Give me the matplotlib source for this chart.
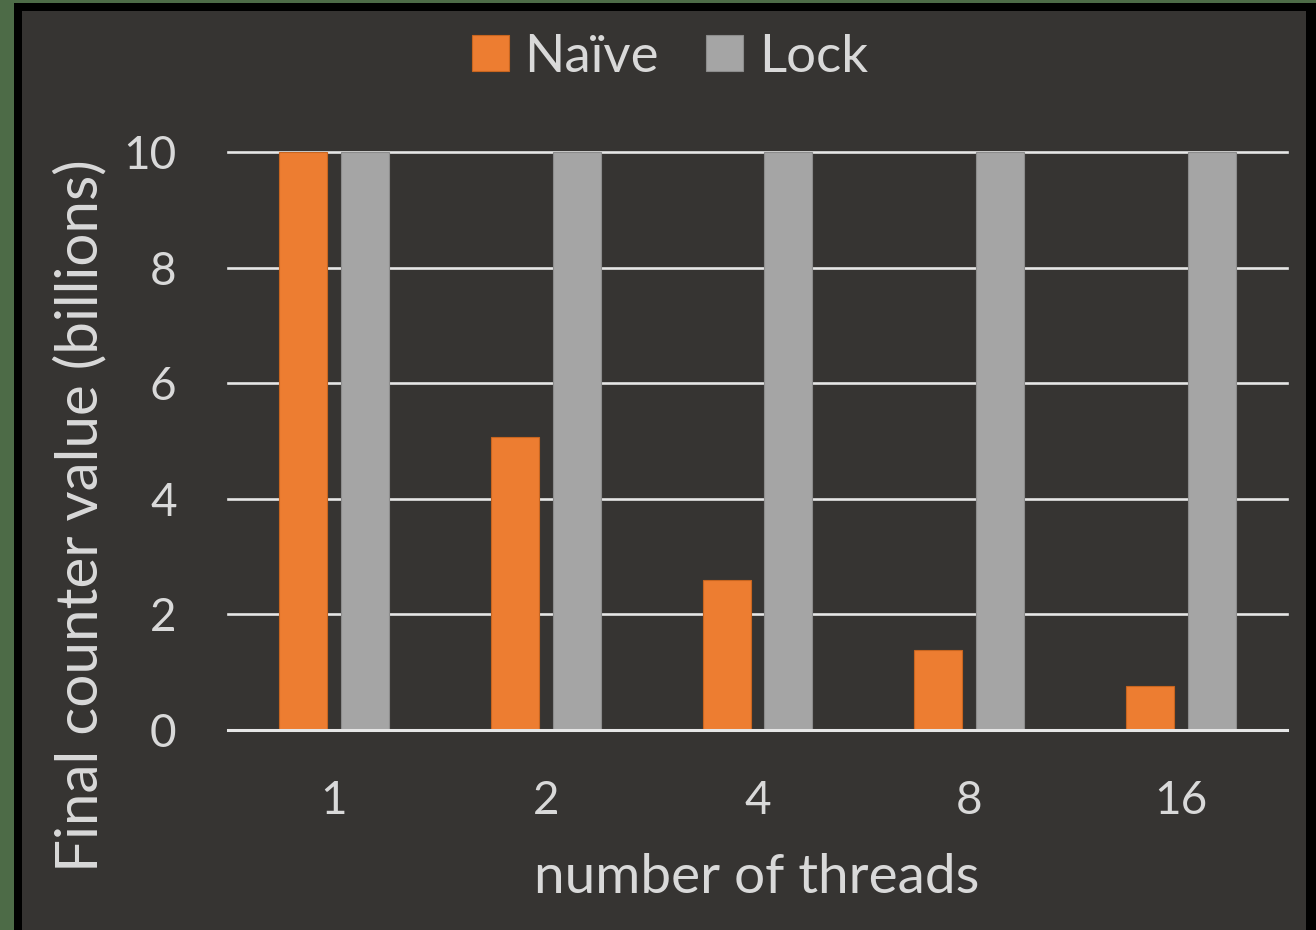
import numpy as np
import matplotlib
matplotlib.use("Agg")
import matplotlib.pyplot as plt
import matplotlib.patches as mpatches

plt.rcParams['font.family'] = ['Lato', 'DejaVu Sans']

threads = ["1", "2", "4", "8", "16"]
naive = [10.0, 5.07, 2.6, 1.38, 0.76]
lock = [10.0, 10.0, 10.0, 10.0, 10.0]

ORANGE = "#ED7D31"
GRAY = "#A5A5A5"
PANEL = "#363432"
TEXT = "#D9D9D9"
GRID = "#E6E6E6"

W, H = 1316, 930
fig = plt.figure(figsize=(W / 100, H / 100), dpi=100, facecolor="#4d6b47")

# black frame and dark slide panel, behind everything
fig.patches.append(mpatches.Rectangle((14 / W, 0), 1 - 14 / W, 1 - 3 / H,
                                      transform=fig.transFigure, zorder=-2,
                                      facecolor="black", edgecolor="none"))
fig.patches.append(mpatches.Rectangle((22 / W, 0), (1306 - 22) / W, 1 - 11 / H,
                                      transform=fig.transFigure, zorder=-1,
                                      facecolor=PANEL, edgecolor="none"))

ax = fig.add_axes([228 / W, (H - 730) / H, (1287 - 228) / W, (730 - 152) / H])
ax.set_facecolor("none")

x = np.arange(len(threads))
bw = 0.227
off = 0.146
ax.bar(x - off, naive, bw, color=ORANGE, edgecolor="#c8651f", linewidth=0.8,
       zorder=3, label="Naïve")
ax.bar(x + off, lock, bw, color=GRAY, edgecolor="#8c8c8c", linewidth=0.8,
       zorder=3, label="Lock")

for v in range(2, 11, 2):
    ax.axhline(v, color=GRID, lw=1.9, zorder=1, clip_on=False)
ax.axhline(0, color=GRID, lw=2.2, zorder=4, clip_on=False)

ax.set_xlim(-0.5, len(threads) - 0.5)
ax.set_ylim(0, 10)
ax.set_yticks(range(0, 11, 2))
ax.set_xticks(x)
ax.set_xticklabels(threads)
ax.tick_params(axis="y", length=0, pad=37, labelsize=33, labelcolor=TEXT)
ax.tick_params(axis="x", length=0, pad=36, labelsize=33, labelcolor=TEXT)
for s in ax.spines.values():
    s.set_visible(False)

# axis titles placed by baseline
fig.text(757 / W, 1 - 893 / H, "number of threads", ha="center",
         va="baseline", fontsize=39.5, color=TEXT)
fig.text(97 / W, 1 - 516 / H, "Final counter value (billions)", rotation=90,
         rotation_mode="anchor", ha="center", va="baseline",
         fontsize=42, color=TEXT)

fig.legend(loc="center", bbox_to_anchor=(670 / W, 1 - 57 / H), ncol=2,
           frameon=False, fontsize=38, labelcolor=TEXT, handlelength=0.7,
           handleheight=0.7, handletextpad=0.3, columnspacing=0.9)

fig.savefig("out.png", dpi=100, facecolor=fig.get_facecolor())
